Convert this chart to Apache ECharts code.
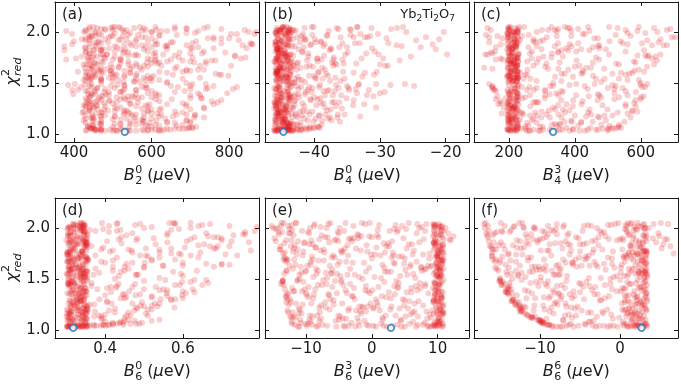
<!DOCTYPE html>
<html><head><meta charset="utf-8">
<script src="https://cdn.jsdelivr.net/npm/echarts@6/dist/echarts.min.js"></script>
<style>html,body{margin:0;padding:0;background:#fff}#c{width:681px;height:384px}</style>
</head><body><div id="c"></div>
<script>
// reduced chi-square of each trial (shared by all six panels)
const chi2 = [
1.03,1.04,1.03,1.05,1.04,1.06,1.03,1.04,1.05,1.03,1.07,1.04,1.03,1.05,1.06,1.04,1.03,1.04,1.05,1.03,1.06,1.04,1.05,1.03,1.04,1.07,1.05,1.03,1.04,1.06,
1.12,1.38,1.21,1.45,1.09,1.27,1.33,1.16,1.49,1.08,
1.24,1.41,1.19,1.30,1.11,1.36,1.47,1.14,1.22,1.29,
1.43,1.10,1.35,1.18,1.26,1.48,1.13,1.32,1.40,1.20,
1.07,1.25,1.44,1.15,1.37,1.28,1.09,1.46,1.23,1.31,
1.17,1.39,1.12,1.34,1.42,1.21,1.08,1.27,1.49,1.19,
1.33,1.14,1.45,1.24,1.10,1.38,1.30,1.16,1.43,1.26,
1.11,1.35,1.20,1.47,1.29,1.13,1.41,1.23,1.36,1.18,
1.09,1.32,1.44,1.15,1.27,1.39,1.22,1.48,1.12,1.34,
1.25,1.17,1.42,1.30,1.08,1.37,1.21,1.46,1.14,1.28,
1.40,1.19,1.33,1.11,1.45,1.24,1.36,1.16,1.29,1.43,
1.10,1.26,1.38,1.20,1.47,1.13,1.31,1.41,1.18,1.35,
1.52,1.87,1.64,2.01,1.73,1.95,1.58,1.81,2.04,1.69,
1.91,1.55,1.77,1.98,1.62,1.85,2.05,1.71,1.53,1.89,
1.66,1.94,1.79,1.57,2.02,1.84,1.68,1.97,1.61,1.75,
2.03,1.88,1.54,1.72,1.93,1.65,1.82,2.00,1.59,1.78,
1.96,1.63,1.86,1.51,1.74,2.04,1.90,1.67,1.80,1.56,
1.99,1.70,1.83,1.60,1.92,2.05,1.76,1.54,1.88,1.65,
2.02,1.73,1.58,1.95,1.81,1.68,1.52,1.90,2.01,1.77,
1.62,1.85,1.97,1.71,1.55,2.03,1.79,1.64,1.93,1.84,
1.50,1.75,2.05,1.69,1.87,1.57,1.96,1.80,1.63,2.00,
1.72,1.91,1.53,1.83,1.66,1.98,1.78,1.60,2.04,1.86,
1.74,1.56,1.94,1.82,1.67,2.02,1.70,1.89,1.59,1.76,
1.99,1.61,1.84,1.92,1.54,1.73,2.05,1.65,1.88,1.79,
1.51,1.97,1.68,1.81,2.03,1.58,1.75,1.90,1.63,1.86,
2.01,1.72,1.55,1.95,1.77,1.69,2.04,1.83,1.60,1.93,
1.66,1.87,1.52,1.98,1.74,1.80,2.02,1.57,1.91,1.71,
1.85,2.05,1.62,1.78,1.96,1.67,1.54,1.89,2.00,1.76,
1.04,1.03,1.05,1.04,1.03,1.06,1.04,1.05,1.03,1.04,1.05,1.03,1.06,1.04,1.03,1.05,1.04,1.03,1.06,1.04,
1.28,1.09,1.44,1.17,1.35,1.22,1.48,1.13,1.31,1.40,
1.19,1.46,1.07,1.26,1.37,1.15,1.42,1.23,1.33,1.10,
1.45,1.21,1.30,1.12,1.39,1.27,1.16,1.49,1.08,1.34,
1.24,1.41,1.18,1.36,1.11,1.29,1.47,1.20,1.38,1.14,
1.32,1.09,1.43,1.25,1.16,1.49,1.22,1.35,1.07,1.40,
1.13,1.30,1.45,1.19,1.27,1.38,1.10,1.42,1.24,1.33,
1.47,1.17,1.36,1.28,1.12,1.44,1.21,1.31,1.15,1.39,
1.23,1.48,1.08,1.34,1.41,1.18,1.26,1.46,1.11,1.37,
1.29,1.14,1.43,1.20,1.35,1.09,1.47,1.25,1.32,1.16,
1.40,1.22,1.12,1.38,1.27,1.45,1.18,1.30,1.42,1.10,
1.36,1.15,1.49,1.24,1.33,1.13,1.41,1.19,1.28,1.46,
1.21,1.39,1.17,1.31,1.44,1.26,1.08,1.37,1.23,1.48,
1.83,1.56,2.00,1.71,1.94,1.62,1.78,2.04,1.51,1.88,
1.67,1.97,1.59,1.82,1.74,2.02,1.53,1.90,1.69,1.85,
2.05,1.64,1.79,1.95,1.57,1.87,1.72,2.01,1.61,1.76,
1.91,1.54,1.84,1.68,2.03,1.77,1.60,1.96,1.73,1.52,
1.86,1.99,1.65,1.80,1.58,1.93,1.70,2.04,1.63,1.81,
1.55,1.89,1.75,2.02,1.66,1.92,1.50,1.83,1.98,1.71,
1.78,1.61,1.96,1.87,1.54,2.05,1.74,1.64,1.90,1.57,
2.00,1.72,1.85,1.59,1.94,1.68,2.03,1.79,1.53,1.88,
1.63,1.97,1.76,1.52,1.84,1.70,1.99,1.60,1.91,1.67,
1.82,1.56,2.01,1.73,1.89,1.62,1.95,1.77,2.05,1.58,
1.69,1.93,1.54,1.86,1.75,2.02,1.65,1.81,1.98,1.51,
1.90,1.64,1.79,2.04,1.57,1.85,1.71,1.96,1.61,1.87,
1.74,2.00,1.66,1.83,1.55,1.92,1.78,2.03,1.68,1.59,
1.97,1.53,1.88,1.72,2.01,1.63,1.84,1.57,1.94,1.76,
1.60,1.86,2.05,1.70,1.80,1.52,1.99,1.67,1.89,1.73,
2.02,1.58,1.93,1.77,1.62,1.95,1.55,1.82,2.00,1.69
];
// B_2^0 (ueV)
const B20 = [
512,468,590,445,620,697,535,455,660,480,436,575,625,690,442,505,560,648,452,470,705,600,470,540,632,715,520,455,493,440,
448,612,530,745,470,689,433,556,402,585,
462,520,712,440,640,575,760,500,438,595,
455,545,730,468,520,428,690,490,610,545,
600,735,480,430,550,458,520,668,590,445,
505,437,578,652,526,472,664,560,445,625,
540,452,588,440,505,700,478,710,395,505,
430,465,580,530,640,612,452,487,600,447,
560,755,700,535,430,483,660,512,700,532,
575,655,430,680,450,442,540,575,470,460,
720,528,470,595,460,620,510,443,545,560,
520,450,445,600,700,580,565,490,480,727,
470,835,545,380,610,440,775,505,690,455,
560,432,660,865,495,585,450,740,620,470,
515,800,440,590,525,705,460,620,410,842,
480,530,680,438,760,570,452,600,500,630,
445,720,375,528,480,555,650,805,540,447,
712,588,475,640,825,500,436,560,610,470,
430,520,455,585,735,495,600,462,640,555,
530,440,470,700,490,780,605,442,535,760,
640,478,570,520,690,798,500,430,575,455,
445,610,515,532,665,395,485,545,520,640,
590,437,745,468,725,612,453,545,562,815,
505,620,700,440,470,650,660,498,858,527,
555,565,432,590,440,510,706,488,460,458,
625,765,580,490,450,600,735,640,475,520,
448,548,500,820,405,672,585,430,715,540,
600,515,690,470,455,562,442,780,870,610,
455,510,640,433,580,695,470,680,545,610,445,500,705,590,430,672,462,618,450,525,
445,610,810,470,700,425,530,690,455,590,
560,418,500,735,475,635,600,440,780,470,
505,680,432,545,398,590,450,740,620,520,
478,660,428,555,700,760,440,615,490,575,
620,448,560,510,735,470,590,430,542,795,
425,545,460,665,480,620,575,435,700,492,
650,505,440,585,470,530,422,770,600,455,
535,585,436,610,478,712,452,820,660,540,
690,520,410,455,565,680,495,625,438,580,
445,505,640,725,430,585,550,500,685,465,
528,448,705,600,460,560,520,690,425,445,
470,560,620,510,740,440,590,470,530,385,
520,455,850,610,430,700,475,580,640,395,
445,540,765,470,830,500,425,655,560,720,
610,485,440,760,530,575,680,430,452,505,
465,595,845,425,690,540,470,620,380,440,
635,455,515,790,440,560,620,495,735,430,
500,705,448,535,590,430,690,580,805,470,
560,430,495,640,470,745,520,660,455,605,
425,755,510,450,600,540,470,700,585,860,
470,665,420,555,490,710,545,435,400,625,
450,530,720,598,440,465,575,815,505,780,
615,480,445,560,670,840,428,530,465,570,
590,445,730,460,505,428,640,525,680,455,
435,600,550,470,725,515,485,660,440,495,
440,470,615,520,575,690,430,560,780,460,
545,505,440,475,610,430,690,580,855,500,
480,655,420,565,495,445,600,375,530,740
];
// B_4^0 (ueV)
const B40 = [
-45.3,-44.0,-44.1,-41.7,-43.7,-40.0,-45.6,-43.3,-44.3,-43.5,-39.3,-45.9,-44.8,-40.8,-43.9,-44.4,-46.1,-42.0,-45.0,-44.5,-41.3,-44.7,-42.6,-45.8,-43.9,-39.5,-45.4,-43.2,-44.2,-43.8,
-44.2,-32.0,-45.1,-40.3,-43.8,-36.7,-45.4,-42.5,-30.6,-43.7,
-44.6,-44.2,-38.3,-45.8,-42.1,-43.6,-35.0,-46.0,-41.1,-45.3,
-43.9,-44.7,-39.1,-45.4,-43.4,-44.1,-37.4,-45.0,-33.5,-45.8,
-44.0,-35.8,-42.4,-45.5,-44.8,-39.7,-46.0,-43.6,-44.3,-37.3,
-45.2,-41.4,-40.1,-44.1,-38.0,-44.6,-45.5,-44.3,-43.8,-36.4,
-42.9,-44.5,-36.3,-45.4,-43.0,-43.7,-38.6,-44.9,-31.7,-45.8,
-44.0,-35.1,-42.8,-45.3,-45.9,-38.8,-40.4,-44.3,-44.0,-41.9,
-44.6,-43.8,-45.8,-37.9,-41.5,-44.9,-45.1,-33.3,-43.6,-40.6,
-44.4,-45.5,-36.9,-43.9,-42.2,-43.1,-45.6,-39.3,-44.8,-34.1,
-45.2,-40.7,-43.7,-44.2,-45.5,-37.5,-42.3,-44.5,-45.0,-34.7,
-43.8,-44.7,-38.4,-45.5,-42.7,-41.0,-46.1,-44.0,-39.2,-45.6,
-44.1,-27.5,-45.1,-45.8,-38.9,-23.0,-43.7,-41.8,-44.8,-33.6,
-44.7,-36.8,-43.9,-30.3,-43.5,-45.5,-40.1,-44.3,-45.0,-35.7,
-41.2,-44.0,-32.1,-45.6,-43.3,-45.2,-43.8,-34.5,-39.4,-44.5,
-44.6,-40.5,-42.9,-27.0,-45.5,-43.6,-37.7,-44.1,-45.8,-19.8,
-38.1,-44.2,-44.9,-41.4,-45.8,-31.3,-43.9,-43.2,-45.5,-32.7,
-43.7,-37.3,-42.4,-45.7,-24.5,-44.6,-45.0,-38.7,-44.2,-45.3,
-34.4,-44.0,-44.5,-42.6,-45.6,-30.0,-43.8,-39.8,-45.1,-44.4,
-45.5,-36.2,-43.6,-43.7,-39.9,-28.3,-45.0,-44.6,-41.3,-45.6,
-43.4,-45.7,-44.8,-35.5,-43.9,-45.5,-31.5,-44.4,-38.4,-44.0,
-44.1,-39.0,-45.8,-21.5,-45.2,-41.7,-43.7,-34.0,-36.6,-44.7,
-39.6,-44.3,-45.5,-45.1,-29.2,-43.8,-42.5,-33.1,-45.8,-40.9,
-43.9,-45.6,-37.5,-44.0,-35.4,-45.5,-26.5,-42.1,-44.5,-45.4,
-44.2,-40.3,-45.7,-30.8,-43.7,-43.6,-37.0,-45.8,-45.0,-43.0,
-45.5,-44.8,-43.9,-36.0,-38.5,-44.4,-41.5,-45.7,-32.3,-21.0,
-45.3,-44.1,-37.6,-44.4,-45.8,-34.9,-43.8,-40.8,-45.9,-39.5,
-41.6,-33.4,-45.5,-44.3,-44.9,-37.1,-43.9,-28.7,-43.5,-45.6,
-44.9,-46.0,-40.6,-45.6,-43.8,-39.2,-42.7,-45.3,-44.5,-41.2,-43.1,-45.7,-40.1,-44.0,-42.3,-46.1,-45.0,-43.4,-44.6,-42.0,
-44.3,-38.9,-45.8,-33.0,-43.9,-45.4,-28.4,-44.7,-36.2,-45.1,
-45.9,-40.8,-44.2,-30.6,-46.0,-41.5,-44.6,-38.0,-45.3,-43.6,
-34.8,-44.0,-45.5,-36.1,-42.9,-45.8,-43.3,-26.2,-45.2,-39.5,
-43.7,-45.9,-39.3,-45.0,-44.8,-32.4,-43.5,-45.6,-37.2,-44.4,
-45.7,-43.2,-41.0,-46.1,-37.6,-45.3,-42.1,-44.9,-40.7,-30.0,
-45.0,-41.8,-44.1,-35.4,-45.4,-43.8,-45.8,-38.6,-44.5,-34.0,
-45.6,-44.6,-40.0,-43.0,-45.9,-33.7,-44.3,-46.0,-39.8,-42.4,
-45.2,-36.7,-43.9,-45.7,-41.3,-44.0,-38.4,-45.4,-44.8,-31.0,
-44.7,-45.9,-37.8,-43.4,-45.1,-42.6,-24.8,-45.8,-43.0,-36.5,
-45.5,-40.3,-45.0,-35.9,-44.2,-46.1,-42.8,-39.0,-45.3,-44.1,
-43.6,-44.5,-33.2,-45.6,-40.5,-45.7,-29.3,-44.9,-45.9,-42.0,
-45.3,-44.0,-45.8,-37.0,-45.1,-43.2,-44.4,-45.7,-41.7,-39.1,
-45.4,-44.2,-26.0,-45.9,-41.6,-45.1,-35.3,-43.8,-45.7,-22.0,
-43.0,-45.6,-38.2,-44.6,-29.5,-45.2,-42.3,-45.9,-36.9,-44.0,
-44.8,-45.5,-40.9,-31.9,-44.3,-46.0,-43.4,-37.8,-45.8,-25.3,
-45.0,-39.7,-45.7,-44.1,-34.6,-45.3,-43.7,-42.0,-45.6,-36.0,
-38.6,-45.8,-44.7,-45.4,-30.9,-43.3,-45.9,-27.4,-42.7,-44.5,
-45.1,-33.8,-44.0,-45.6,-40.2,-45.0,-43.1,-37.4,-44.4,-46.1,
-43.6,-35.6,-45.7,-40.6,-45.3,-44.2,-32.8,-45.9,-39.0,-44.9,
-45.2,-41.1,-23.8,-45.6,-43.9,-45.0,-36.3,-44.6,-41.9,-45.8,
-44.3,-38.0,-45.5,-44.8,-31.2,-43.5,-45.9,-39.3,-45.1,-28.8,
-45.7,-42.5,-44.0,-37.1,-45.4,-45.8,-34.0,-43.2,-40.4,-44.7,
-45.0,-43.7,-45.6,-26.7,-44.1,-45.3,-38.8,-45.9,-33.0,-43.0,
-42.2,-45.2,-44.6,-45.7,-40.0,-35.0,-45.4,-44.3,-30.5,-45.8,
-39.5,-45.1,-43.6,-45.6,-44.9,-41.4,-30.2,-45.0,-36.6,-45.9,
-44.5,-45.8,-38.4,-45.2,-42.8,-43.9,-45.5,-37.9,-29.0,-44.2,
-45.6,-43.4,-33.5,-45.1,-41.8,-44.6,-45.9,-40.7,-45.3,-35.7,
-43.1,-45.4,-39.9,-44.8,-45.7,-32.3,-44.0,-45.2,-20.3,-42.6
];
// B_4^3 (ueV)
const B43 = [
254,197,384,499,221,529,294,439,212,344,226,274,224,484,374,202,414,324,237,206,514,464,195,264,354,534,394,216,304,228,
200,474,239,150,534,218,584,324,404,226,
364,222,449,196,284,534,227,210,574,168,
254,214,309,514,198,599,389,225,344,178,
294,203,439,219,229,484,354,148,195,274,
224,324,454,201,554,279,211,394,228,244,
359,234,217,499,197,264,223,569,309,334,
419,204,221,334,229,494,213,384,249,196,
227,424,208,274,554,199,299,514,369,160,
215,434,359,194,259,609,222,239,206,349,
200,314,469,226,284,212,224,474,554,155,
339,219,404,203,524,227,198,364,284,210,
223,634,319,199,474,140,216,554,379,208,
294,227,614,196,424,160,246,213,594,349,
220,459,264,201,679,209,534,130,225,329,
197,384,244,649,218,434,206,284,514,228,
569,214,339,224,175,199,654,274,211,394,
226,354,494,203,234,594,217,464,195,125,
319,222,554,198,404,212,284,227,444,624,
205,259,219,579,228,349,200,489,214,374,
334,221,504,196,669,211,389,145,256,225,
215,539,199,299,619,424,227,207,135,220,
269,194,216,444,223,339,584,209,369,201,
614,226,213,304,534,197,231,449,222,150,
210,524,225,349,202,249,464,217,594,284,
389,199,228,694,208,314,219,419,574,204,
224,474,359,196,634,212,554,227,274,229,
201,329,218,504,165,414,226,604,209,364,
215,290,505,198,430,540,362,226,203,470,250,330,210,395,500,520,222,260,447,196,
205,330,155,470,222,590,384,199,290,520,
215,605,250,212,442,196,310,575,227,200,
220,370,175,550,204,265,218,460,410,600,
340,198,490,225,207,420,150,237,560,212,
203,480,275,225,360,620,208,190,302,226,
270,214,500,197,585,350,223,161,445,219,
325,209,600,198,390,226,530,280,201,470,
228,200,345,520,217,400,184,613,255,205,
375,221,195,560,240,204,430,212,175,298,
227,199,420,310,216,545,264,580,206,355,
480,208,140,224,395,198,585,350,203,262,
440,225,201,285,520,211,505,165,321,216,
212,340,650,205,470,226,128,385,198,560,
225,200,420,610,216,300,203,140,525,221,
370,208,230,197,455,680,214,590,227,305,
199,265,222,640,410,201,540,225,160,213,
470,218,196,350,224,275,207,640,380,158,
210,545,228,202,310,220,600,195,430,255,
660,206,345,217,490,199,226,150,280,223,
215,405,200,565,228,203,690,330,211,175,
198,260,620,224,209,455,195,235,505,218,
360,201,227,180,212,580,315,206,440,197,
216,660,205,390,225,145,199,270,211,480,
221,350,208,530,196,455,227,240,610,204,
290,213,400,201,223,620,135,228,205,360,
207,560,226,197,345,219,475,202,180,645,
425,222,205,285,198,212,560,226,410,203,
224,255,196,590,209,705,217,380,227,215
];
// B_6^0 (ueV)
const B60 = [
0.314,0.338,0.352,0.395,0.321,0.432,0.302,0.378,0.347,0.335,0.446,0.307,0.325,0.408,0.354,0.360,0.306,0.389,0.332,0.343,0.420,0.303,0.370,0.342,0.329,0.438,0.309,0.351,0.401,0.318,
0.308,0.600,0.341,0.435,0.476,0.327,0.520,0.352,0.630,0.349,
0.492,0.336,0.305,0.385,0.353,0.558,0.318,0.466,0.345,0.570,
0.330,0.344,0.445,0.313,0.528,0.339,0.390,0.325,0.500,0.355,
0.348,0.320,0.592,0.337,0.311,0.405,0.303,0.365,0.535,0.346,
0.425,0.314,0.350,0.478,0.340,0.328,0.440,0.319,0.555,0.332,
0.336,0.510,0.320,0.355,0.310,0.462,0.581,0.343,0.312,0.417,
0.395,0.308,0.352,0.620,0.339,0.305,0.428,0.500,0.323,0.374,
0.318,0.454,0.345,0.307,0.337,0.540,0.331,0.315,0.450,0.353,
0.372,0.342,0.307,0.543,0.322,0.348,0.483,0.304,0.385,0.334,
0.319,0.410,0.340,0.335,0.477,0.311,0.608,0.350,0.345,0.325,
0.460,0.327,0.344,0.520,0.310,0.372,0.333,0.405,0.317,0.490,
0.338,0.725,0.322,0.306,0.490,0.660,0.349,0.395,0.318,0.580,
0.442,0.305,0.341,0.570,0.680,0.328,0.335,0.352,0.435,0.620,
0.316,0.346,0.540,0.311,0.410,0.325,0.354,0.785,0.500,0.333,
0.477,0.309,0.370,0.343,0.304,0.455,0.670,0.337,0.306,0.420,
0.320,0.548,0.351,0.313,0.710,0.340,0.352,0.302,0.505,0.385,
0.590,0.305,0.347,0.460,0.328,0.432,0.309,0.338,0.700,0.324,
0.334,0.375,0.636,0.310,0.353,0.520,0.317,0.483,0.345,0.303,
0.308,0.442,0.344,0.640,0.301,0.329,0.390,0.350,0.560,0.319,
0.425,0.311,0.339,0.358,0.312,0.575,0.347,0.685,0.316,0.500,
0.310,0.630,0.342,0.321,0.400,0.336,0.468,0.317,0.580,0.353,
0.595,0.318,0.345,0.365,0.306,0.720,0.330,0.435,0.309,0.540,
0.341,0.330,0.655,0.310,0.485,0.304,0.392,0.660,0.349,0.323,
0.307,0.375,0.320,0.605,0.344,0.450,0.303,0.525,0.335,0.770,
0.520,0.337,0.595,0.305,0.412,0.317,0.670,0.352,0.343,0.310,
0.502,0.314,0.348,0.440,0.306,0.570,0.319,0.327,0.690,0.430,
0.308,0.565,0.420,0.340,0.760,0.304,0.480,0.318,0.346,0.645,
0.331,0.305,0.420,0.352,0.318,0.465,0.340,0.395,0.310,0.372,0.447,0.326,0.488,0.346,0.302,0.410,0.355,0.337,0.480,0.312,
0.335,0.520,0.650,0.309,0.450,0.578,0.344,0.301,0.600,0.380,
0.349,0.322,0.495,0.306,0.630,0.330,0.470,0.353,0.341,0.540,
0.304,0.425,0.327,0.347,0.560,0.316,0.505,0.660,0.338,0.400,
0.520,0.350,0.312,0.333,0.390,0.345,0.598,0.302,0.352,0.455,
0.318,0.340,0.430,0.360,0.308,0.336,0.480,0.315,0.420,0.625,
0.342,0.570,0.310,0.328,0.405,0.351,0.305,0.530,0.321,0.348,
0.345,0.460,0.303,0.339,0.315,0.580,0.354,0.440,0.311,0.335,
0.327,0.500,0.310,0.598,0.348,0.337,0.470,0.306,0.352,0.415,
0.308,0.343,0.365,0.510,0.332,0.450,0.319,0.346,0.520,0.302,
0.550,0.314,0.330,0.345,0.495,0.309,0.355,0.329,0.415,0.317,
0.340,0.400,0.305,0.349,0.560,0.322,0.336,0.475,0.311,0.665,
0.344,0.318,0.350,0.450,0.306,0.540,0.400,0.327,0.312,0.353,
0.306,0.345,0.620,0.330,0.352,0.450,0.775,0.318,0.540,0.342,
0.350,0.430,0.313,0.690,0.301,0.339,0.600,0.326,0.520,0.355,
0.345,0.700,0.310,0.560,0.336,0.405,0.348,0.790,0.322,0.470,
0.335,0.480,0.351,0.307,0.650,0.341,0.375,0.312,0.620,0.329,
0.560,0.303,0.343,0.320,0.420,0.730,0.354,0.490,0.308,0.347,
0.337,0.322,0.590,0.349,0.470,0.305,0.353,0.640,0.340,0.315,
0.352,0.330,0.410,0.346,0.304,0.575,0.327,0.720,0.338,0.440,
0.311,0.510,0.350,0.340,0.760,0.355,0.323,0.460,0.345,0.300,
0.600,0.336,0.303,0.348,0.530,0.319,0.395,0.344,0.680,0.310,
0.348,0.310,0.335,0.740,0.352,0.500,0.321,0.342,0.620,0.354,
0.332,0.455,0.350,0.306,0.570,0.345,0.700,0.313,0.360,0.338,
0.700,0.343,0.318,0.430,0.353,0.334,0.540,0.349,0.305,0.610,
0.339,0.305,0.600,0.352,0.340,0.665,0.316,0.347,0.420,0.332,
0.346,0.325,0.480,0.351,0.309,0.550,0.331,0.353,0.755,0.342,
0.312,0.346,0.580,0.337,0.680,0.354,0.324,0.390,0.343,0.505,
0.640,0.341,0.355,0.308,0.335,0.470,0.348,0.720,0.319,0.352
];
// B_6^3 (ueV)
const B63 = [
2.3,8.5,-4.1,9.4,-8.2,5.7,10.7,-1.9,7.0,0.6,-10.8,9.9,-11.0,3.9,-9.7,10.3,4.5,-3.5,9.6,-5.4,10.8,1.8,-9.1,6.7,-0.5,10.1,-7.5,8.9,9.3,-10.1,
-11.6,10.5,4.2,-13.8,9.8,-7.1,1.5,10.9,-4.6,6.3,
7.8,-2.7,10.0,-12.4,-3.9,8.6,9.5,-9.4,0.3,-5.8,
3.4,10.6,-8.8,-0.9,10.2,-11.3,5.1,-13.0,9.7,-6.4,
8.0,-10.5,-4.3,10.4,2.6,9.4,-8.0,7.3,-1.5,10.7,
-12.0,6.9,-2.2,9.9,-9.6,5.5,10.3,0.8,-13.5,9.2,
-3.0,2.1,9.6,-7.7,-5.0,-11.9,4.7,10.8,8.1,-0.2,
10.1,-6.6,-10.9,1.9,9.4,-4.8,9.3,3.0,-12.7,6.5,
-1.1,10.5,-8.2,5.9,-12.3,0.1,9.8,-5.6,9.0,-9.9,
10.9,-7.9,4.0,-2.6,-9.3,10.0,-3.4,9.5,3.6,7.1,
-10.2,1.2,10.6,8.4,-6.9,9.7,-3.8,-11.1,5.0,10.2,
4.4,-4.5,-0.6,10.4,-13.6,-9.0,2.9,6.0,-1.8,9.6,
10.3,-14.6,-5.2,9.5,3.3,-9.5,7.6,10.8,-1.0,-12.8,
1.0,-8.4,10.0,-12.1,5.8,9.4,-4.0,-13.3,10.6,11.8,
-2.9,9.8,-7.3,2.4,-15.2,6.1,10.4,-10.6,-0.4,8.8,
9.7,-5.7,-11.0,4.6,-2.0,10.7,-13.9,7.2,-6.0,10.1,
3.8,-9.8,9.5,1.4,-11.4,9.3,-3.2,10.5,5.3,-7.0,
-12.5,10.9,-0.8,8.2,12.4,-6.3,2.0,9.9,-9.2,4.9,
10.3,-3.6,-12.9,6.8,9.6,-8.1,0.4,-14.8,10.6,-4.4,
7.5,-10.3,2.7,10.0,-5.3,-12.2,9.4,1.6,-7.6,10.8,
-1.4,10.2,5.6,-9.0,3.1,9.7,-13.6,-2.4,8.5,11.2,
10.5,-6.7,4.3,-11.7,9.8,0.9,6.4,-3.3,-8.7,10.1,
-0.1,-10.7,9.5,2.2,-4.9,10.7,-13.1,7.9,10.3,-7.2,
5.2,9.9,-9.5,-1.6,10.4,-5.9,-11.5,3.5,9.6,-14.0,
6.6,-4.2,10.8,-8.5,1.1,-10.0,10.0,-2.1,9.1,-6.5,
-7.8,4.1,9.4,-12.6,-0.7,10.6,8.3,-3.7,-12.0,10.2,
9.9,-5.1,-8.9,10.5,6.2,-11.8,-2.8,9.7,0.0,-6.1,
2.5,-13.4,10.3,-4.7,9.5,-9.3,5.4,10.9,-15.0,3.2,
-6.8,9.7,-11.7,3.2,-2.5,10.4,-9.9,7.8,-11.2,0.2,10.1,5.0,-12.1,-4.3,8.6,-0.8,9.5,-8.4,1.4,10.8,
10.0,-5.5,-13.4,6.2,9.6,-1.3,3.7,-12.4,10.6,-8.6,
-12.8,10.3,-3.1,-9.2,5.3,9.9,-6.0,10.8,-13.1,1.7,
8.1,-11.1,0.6,10.2,-4.0,-13.0,9.4,-7.4,-2.0,10.5,
4.9,-12.1,10.7,-0.3,-7.7,9.8,-10.4,2.8,10.1,-5.1,
-9.6,10.3,6.7,-12.6,-1.6,10.9,-8.0,3.5,9.5,-13.2,
7.0,-6.3,10.2,-3.6,9.3,-11.8,-10.9,1.0,10.6,-2.9,
-4.7,9.9,-10.0,5.7,-12.2,10.4,0.2,-8.9,8.8,9.6,
-1.9,-13.5,10.0,-6.5,3.9,10.8,-11.5,9.7,-4.4,6.0,
9.4,-8.3,-0.9,10.3,-12.9,4.4,10.6,-5.8,2.2,-10.7,
10.1,-7.0,1.6,-10.6,10.5,-3.3,8.3,-12.8,9.8,-9.5,
-5.3,10.7,-11.3,0.9,9.5,-11.9,7.4,-2.4,10.2,4.1,
10.4,-1.0,-12.7,9.9,-7.6,6.5,-12.2,10.8,-0.6,-13.6,
9.6,-6.2,-14.3,3.0,10.5,-10.8,-1.7,6.9,10.2,-13.0,
-3.9,10.9,8.0,-12.3,0.5,-8.8,10.0,4.8,-13.4,9.4,
-0.3,-11.6,10.6,-5.0,2.9,9.8,-9.1,10.3,7.5,-13.2,
10.7,-2.6,5.6,-7.3,9.5,-12.0,10.1,-14.2,1.3,9.9,
-10.2,3.4,9.7,-4.1,-13.0,10.4,8.7,-6.6,10.0,0.7,
6.3,-8.0,10.8,-12.7,-1.2,9.3,-11.0,10.5,4.0,-5.6,
10.2,1.9,-9.7,-3.0,10.6,-13.7,7.8,-9.3,9.6,-0.9,
-6.9,10.0,-13.3,5.1,-2.2,10.7,3.6,-11.3,9.8,12.0,
-12.5,8.1,-4.6,10.3,-9.0,0.0,-14.6,10.9,-7.1,6.8,
2.6,10.4,9.5,-10.5,-5.4,9.9,-12.4,10.6,-1.5,-8.2,
10.1,-11.9,-3.7,7.2,-13.5,4.6,10.7,-8.6,9.4,-6.8,
-2.8,5.9,-13.9,10.2,-10.1,1.8,9.6,-5.2,10.5,-11.2,
9.8,-9.4,3.3,10.8,-13.3,-0.4,-7.8,9.5,-12.9,10.3,
10.6,-4.8,-12.2,10.0,7.6,-6.4,9.7,2.0,-14.1,10.9,
-8.5,9.4,-11.6,5.0,10.4,-1.9,10.1,-13.1,-3.5,9.9,
-13.8,10.5,0.8,-10.4,8.9,11.6,-6.1,10.2,-4.9,-11.8
];
// B_6^6 (ueV)
const B66 = [
2.9,-3.4,1.2,-8.8,1.9,-6.1,-1.5,2.4,-9.0,3.4,-9.6,0.5,-7.9,2.1,-4.4,3.1,-0.3,-8.5,1.7,-5.8,0.8,-2.6,2.8,-7.2,1.0,-9.5,-6.4,2.6,-1.2,3.3,
-11.0,2.7,-5.6,-14.5,1.5,-12.9,0.8,-8.3,2.2,-3.7,
1.9,-14.1,3.3,-7.4,-0.9,-13.5,-4.2,2.5,-11.8,0.6,
-9.1,1.4,-2.8,-12.2,2.0,-6.7,-10.6,3.2,-13.9,0.3,
2.2,-7.8,-14.8,1.6,-5.0,3.4,-9.8,2.9,-12.4,-1.9,
1.3,-11.9,-6.0,1.1,-3.1,-12.3,0.4,2.6,-15.0,-4.8,
-8.7,3.0,-1.2,-12.6,-7.1,1.8,-13.4,0.9,-10.2,2.3,
2.4,-6.3,-9.4,3.1,-2.4,-11.3,0.7,-5.3,3.3,-12.5,
-3.3,2.1,-7.3,-11.6,0.6,-14.3,1.2,-9.9,-0.1,3.2,
-13.1,2.7,3.0,-4.5,-9.7,-8.2,1.6,-13.8,-6.9,1.0,
0.5,-10.8,-5.7,-9.2,1.4,3.1,-11.0,-2.1,-13.3,-3.8,
3.2,-6.8,0.1,-1.6,-10.5,2.0,-8.9,-14.0,1.9,-7.6,
2.5,-16.4,-3.0,1.8,-8.6,4.8,3.2,-12.0,-0.6,-15.5,
-5.5,1.1,3.0,-13.6,-10.1,2.4,-16.8,0.5,-6.6,5.9,
3.3,-9.0,-2.2,-14.2,0.9,-11.4,1.7,-4.7,-15.6,2.2,
-7.0,2.0,-12.7,3.2,-15.9,-1.0,6.3,-10.8,2.7,-6.1,
0.9,-8.0,2.8,-3.9,-13.0,4.2,-9.6,2.2,-16.0,0.1,
3.0,-4.1,-14.6,1.6,-1.8,-12.2,1.1,-7.7,-10.3,2.5,
-16.5,1.2,-9.3,-6.4,2.8,-15.0,-0.8,3.2,-13.3,-5.0,
3.1,-7.4,-2.5,-11.1,2.3,0.7,-15.8,-5.9,1.7,-8.8,
-13.5,2.6,5.1,-9.5,-3.5,3.0,-14.7,1.4,-12.5,-2.9,
0.4,-11.6,-0.4,-6.2,-15.0,2.1,-9.9,3.3,-17.0,4.5,
-12.2,3.1,-7.9,1.3,-3.2,-14.4,2.8,-1.4,-10.0,3.4,
2.0,-13.9,-4.6,3.3,-7.5,-16.0,1.5,-2.0,-12.9,0.3,
3.0,-8.3,-11.5,2.5,-1.1,-15.2,6.7,-5.2,1.9,-14.9,
-10.7,-4.3,2.6,-16.7,3.1,-7.1,1.3,-2.7,-9.6,1.0,
-6.8,3.3,-11.8,0.8,-14.0,5.2,-3.6,2.3,-9.2,-1.5,
2.9,-12.6,-5.4,3.1,-15.4,0.6,-8.1,-10.9,3.2,-3.4,
-5.2,2.2,-8.9,1.5,-7.5,3.1,-2.0,-9.2,0.9,2.7,-4.3,-8.4,-9.6,-0.8,1.8,3.3,-6.7,-3.0,0.4,2.4,
-13.5,2.9,-14.8,-3.6,1.7,-12.5,-9.0,0.8,-6.0,3.2,
2.4,-11.2,-9.8,0.2,-14.2,-6.4,2.6,-12.0,-1.4,-10.0,
-4.9,1.1,-13.4,-11.1,3.0,-8.0,2.1,-15.0,-3.9,0.6,
-10.7,2.3,-12.4,-7.7,1.6,-2.5,-14.9,3.3,-11.5,-5.5,
1.9,-7.1,-13.8,2.8,-11.9,0.0,-8.6,-13.9,2.0,-1.0,
-2.9,3.4,-9.3,-12.3,1.3,-5.8,-10.1,2.5,-13.0,-7.3,
0.9,-4.0,-14.0,2.6,-10.9,-1.9,3.1,-10.6,1.4,-8.4,
-6.7,3.2,-10.0,-12.9,0.3,-2.2,-13.1,-5.1,2.7,-14.1,
2.1,-11.6,-7.9,0.7,-3.2,-10.2,-14.6,3.0,-9.5,1.8,
-13.6,-6.1,2.3,-0.4,-12.6,1.2,-8.8,2.9,-4.6,-10.3,
3.3,-1.1,-12.3,-9.6,2.2,-11.0,-6.9,0.5,-13.6,2.0,
-12.6,-3.5,1.0,-11.7,3.4,-8.2,-9.9,-14.3,2.7,-15.1,
-13.4,2.8,-16.9,-5.1,1.2,-11.0,3.3,-7.9,-15.0,0.4,
3.0,-9.7,-1.8,-16.3,2.2,-4.5,-12.8,1.6,-15.9,-8.1,
1.0,-14.3,-3.3,3.2,-10.9,-6.8,2.5,-12.1,0.1,-16.0,
-2.7,-8.3,5.4,-13.7,2.9,-0.9,-15.4,-9.4,1.8,3.1,
-11.7,0.6,3.3,-7.2,-13.0,-16.6,1.4,6.0,-4.8,2.6,
1.9,-10.0,-13.9,2.3,-5.9,3.0,-1.2,-15.2,-8.6,0.8,
-9.1,2.4,-2.0,-12.5,3.4,-14.9,-6.3,0.2,4.1,-11.3,
3.1,-16.0,1.5,-7.6,-11.8,2.7,-4.0,-14.4,0.9,-0.4,
-3.8,-14.8,2.0,-9.9,-6.5,3.2,-10.6,1.1,-16.5,-13.0,
2.1,-12.3,-7.1,0.7,5.6,-2.8,-15.7,3.3,-0.2,-8.5,
-5.6,2.9,-14.1,-10.3,1.0,-9.0,3.1,-12.9,1.7,-2.4,
0.3,-7.7,-15.5,3.0,2.3,-4.2,-11.5,-13.8,-0.7,2.4,
3.3,-12.0,-6.0,1.3,-13.6,4.9,-8.9,-1.5,2.8,-10.4,
-16.4,0.5,-3.1,-14.7,2.6,-9.3,-5.0,3.2,-11.1,1.6,
-7.4,-15.8,2.2,-1.0,-12.4,3.4,-8.0,-15.6,0.0,-3.9,
-13.2,1.4,-6.6,2.8,-10.6,-2.3,3.3,-16.1,3.6,-4.4
];
// best fit (open blue circle)
const bestChi2 = 1.02;
const bestFit = [531, -44.7, 334, 0.318, 2.9, 2.7];

const panelTags = ['(a)','(b)','(c)','(d)','(e)','(f)'];
const paramSub = ['2','4','4','6','6','6'];
const paramSup = ['0','0','3','0','3','6'];
const xRanges = [[351,877],[-47.5,-16.45],[94,713],[0.271,0.796],[-16.23,14.76],[-18.25,7.25]];
const xTickVals = [[400,600,800],[-40,-30,-20],[200,400,600],[0.4,0.6],[-10,0,10],[-10,0]];
const yRange = [0.92, 2.295];
const yTickVals = [1.0, 1.5, 2.0];
const params = [B20, B40, B43, B60, B63, B66];

const FONT = 'DejaVu Sans';
const INK = '#1a1a1a';
const gridLefts = [55, 265, 474], gridTops = [2, 198], GW = 204, GH = 140;

const cv = document.createElement('canvas').getContext('2d');
function tw(t, font){ cv.font = font; return cv.measureText(t).width; }

const grids = [], xAxes = [], yAxes = [], series = [], graphics = [];
function fmtX(i, v){
  let s = (i === 3) ? v.toFixed(1) : String(v);
  return s.replace('-', '\u2212');
}
for (let i = 0; i < 6; i++) {
  const r = Math.floor(i / 3), c = i % 3;
  grids.push({left: gridLefts[c], top: gridTops[r], width: GW, height: GH});
  const tick = (vals) => ({show: true, inside: true, length: 4, lineStyle: {color: INK, width: 1}, customValues: vals});
  const line = {show: true, onZero: false, lineStyle: {color: INK, width: 1}};
  xAxes.push({type: 'value', gridIndex: i, position: 'bottom', min: xRanges[i][0], max: xRanges[i][1],
    axisLine: line, axisTick: tick(xTickVals[i]), splitLine: {show: false},
    axisLabel: {show: true, customValues: xTickVals[i], margin: 4, color: INK, fontFamily: FONT, fontSize: 15,
      formatter: (v) => fmtX(i, v)}});
  xAxes.push({type: 'value', gridIndex: i, position: 'top', min: xRanges[i][0], max: xRanges[i][1],
    axisLine: line, axisTick: tick(xTickVals[i]), splitLine: {show: false}, axisLabel: {show: false}});
  yAxes.push({type: 'value', gridIndex: i, position: 'left', min: yRange[0], max: yRange[1],
    axisLine: line, axisTick: tick(yTickVals), splitLine: {show: false},
    axisLabel: {show: c === 0, customValues: yTickVals, margin: 5, color: INK, fontFamily: FONT, fontSize: 15,
      formatter: (v) => v.toFixed(1)}});
  yAxes.push({type: 'value', gridIndex: i, position: 'right', min: yRange[0], max: yRange[1],
    axisLine: line, axisTick: tick(yTickVals), splitLine: {show: false}, axisLabel: {show: false}});
  const xs = params[i];
  series.push({type: 'scatter', xAxisIndex: 2 * i, yAxisIndex: 2 * i, symbolSize: 6,
    itemStyle: {color: 'rgba(228,26,28,0.26)'}, silent: true, animation: false, large: false,
    data: chi2.map((y, k) => [xs[k], y])});
  series.push({type: 'scatter', xAxisIndex: 2 * i, yAxisIndex: 2 * i, symbol: 'circle', symbolSize: 6.5, z: 5,
    itemStyle: {color: '#ffffff', borderColor: '#1f77b4', borderWidth: 1.8}, silent: true, animation: false,
    data: [[bestFit[i], bestChi2]]});

  graphics.push({type: 'text', x: gridLefts[c] + 7, y: gridTops[r] + 13, z: 100,
    style: {text: panelTags[i], font: '15px "' + FONT + '"', fill: INK, textAlign: 'left', textVerticalAlign: 'middle'}});

  const cx = gridLefts[c] + GW / 2, cy = gridTops[r] + GH + 34;
  const fB = 'italic 16px "' + FONT + '"', fS = '11px "' + FONT + '"', fN = '16px "' + FONT + '"';
  const wB = tw('B', fB), wS = Math.max(tw(paramSub[i], fS), tw(paramSup[i], fS));
  const wP = tw(' (', fN), wMu = tw('\u03bc', fB), wE = tw('eV)', fN);
  const total = wB + wS + wP + wMu + wE;
  let x0 = cx - total / 2;
  const items = [];
  items.push({t: 'B', f: fB, x: x0, y: cy}); x0 += wB;
  items.push({t: paramSup[i], f: fS, x: x0 + 0.5, y: cy - 6});
  items.push({t: paramSub[i], f: fS, x: x0 + 0.5, y: cy + 5}); x0 += wS + 0.5;
  items.push({t: ' (', f: fN, x: x0, y: cy}); x0 += wP;
  items.push({t: '\u03bc', f: fB, x: x0, y: cy}); x0 += wMu;
  items.push({t: 'eV)', f: fN, x: x0, y: cy});
  items.forEach(it => graphics.push({type: 'text', x: it.x, y: it.y, z: 100,
    style: {text: it.t, font: it.f, fill: INK, textAlign: 'left', textVerticalAlign: 'middle'}}));

  if (c === 0) {
    const fC = 'italic 16px "' + FONT + '"', fR = 'italic 11px "' + FONT + '"';
    const wc = tw('\u03c7', fC), w2 = tw('2', fS), wr = tw('red', fR);
    const tot = wc + Math.max(w2, wr);
    const children = [
      {type: 'text', x: -tot / 2, y: 0, style: {text: '\u03c7', font: fC, fill: INK, textAlign: 'left', textVerticalAlign: 'middle'}},
      {type: 'text', x: -tot / 2 + wc + 0.5, y: -7, style: {text: '2', font: fS, fill: INK, textAlign: 'left', textVerticalAlign: 'middle'}},
      {type: 'text', x: -tot / 2 + wc + 0.5, y: 5, style: {text: 'red', font: fR, fill: INK, textAlign: 'left', textVerticalAlign: 'middle'}}
    ];
    graphics.push({type: 'group', x: 13, y: gridTops[r] + GH / 2, rotation: Math.PI / 2, z: 100, children});
  }
}
(function(){
  const fN = '13px "' + FONT + '"', fS = '9px "' + FONT + '"';
  const parts = [['Yb', fN, 0], ['2', fS, 4], ['Ti', fN, 0], ['2', fS, 4], ['O', fN, 0], ['7', fS, 4]];
  let total = 0; parts.forEach(p => total += tw(p[0], p[1]));
  let x = 455 - total;
  parts.forEach(p => {
    graphics.push({type: 'text', x: x, y: 15 + p[2], z: 100,
      style: {text: p[0], font: p[1], fill: INK, textAlign: 'left', textVerticalAlign: 'middle'}});
    x += tw(p[0], p[1]);
  });
})();

const chart = echarts.init(document.getElementById('c'), null, {renderer: 'canvas'});
chart.setOption({animation: false, backgroundColor: '#ffffff', grid: grids, xAxis: xAxes, yAxis: yAxes, series, graphic: graphics});
</script>
</body></html>
